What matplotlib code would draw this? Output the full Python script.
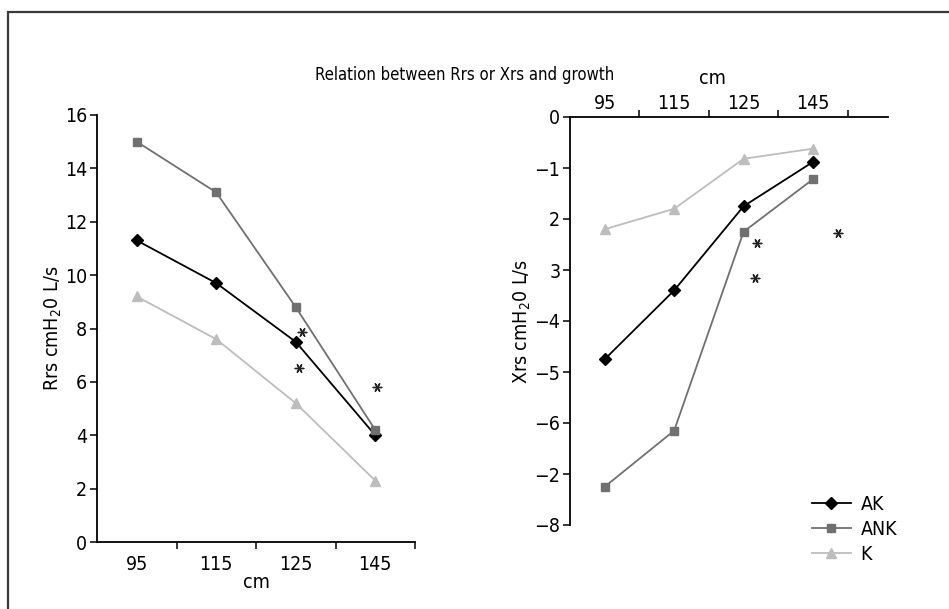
import matplotlib
matplotlib.use("Agg")
import matplotlib.pyplot as plt
from matplotlib.patches import Rectangle

plt.rcParams['font.family'] = ['DejaVu Sans']
plt.rcParams['font.stretch'] = 'condensed'
plt.rcParams['mathtext.fontset'] = 'custom'
plt.rcParams['mathtext.rm'] = 'DejaVu Sans:stretch=condensed'
plt.rcParams['mathtext.it'] = 'DejaVu Sans:stretch=condensed'

heights = ["95", "115", "125", "145"]
series = ["AK", "ANK", "K"]

rrs_ak = [11.3, 9.7, 7.5, 4.0]
rrs_ank = [15.0, 13.1, 8.8, 4.2]
rrs_k = [9.2, 7.6, 5.2, 2.3]

xrs_ak = [-4.75, -3.4, -1.75, -0.88]
xrs_ank = [-7.25, -6.15, -2.25, -1.22]
xrs_k = [-2.2, -1.8, -0.82, -0.62]

rrs_ticks = [0, 2, 4, 6, 8, 10, 12, 14, 16]
xrs_ticks = [-8, -7, -6, -5, -4, -3, -2, -1, 0]
xrs_ticklabels = ["\u22128", "\u22122", "\u22126", "\u22125", "\u22124", "3", "2", "\u22121", "0"]

rrs_star_x = [2.08, 2.04, 3.02]
rrs_star_y = [7.87, 6.52, 5.81]
xrs_star_x = [2.19, 2.16, 3.36]
xrs_star_y = [-2.47, -3.16, -2.27]

styles = {
    "AK": dict(color="#000000", marker="D", markersize=6.5),
    "ANK": dict(color="#707070", marker="s", markersize=6),
    "K": dict(color="#bdbdbd", marker="^", markersize=7.5),
}

W, H = 949, 609
fig = plt.figure(figsize=(W / 100, H / 100), dpi=100)

# outer frame
fig.add_artist(Rectangle((8 / W, -0.1), 1.2, (H - 12) / H + 0.1, transform=fig.transFigure,
                         fill=False, edgecolor="#3a3a3a", linewidth=1.6))

fig.text(465 / W, 1 - 75 / H, "Relation between Rrs or Xrs and growth", ha="center", va="center", fontsize=12)

x = list(range(len(heights)))
star_kw = dict(marker=(6, 2, 90), s=38, color="#222222", linewidths=1.0)

# Left axes
ax1 = fig.add_axes([97 / W, 1 - 542 / H, (415 - 97) / W, (542 - 115) / H])
for name, vals in zip(series, [rrs_ak, rrs_ank, rrs_k]):
    ax1.plot(x, vals, linewidth=1.3, label=name, **styles[name])
ax1.set_xlim(-0.5, 3.5)
ax1.set_ylim(0, 16)
ax1.set_yticks(rrs_ticks)
ax1.set_xticks([0.5, 1.5, 2.5, 3.5])
ax1.set_xticklabels([])
ax1.set_xticks(x, minor=True)
ax1.set_xticklabels(heights, minor=True)
ax1.tick_params(axis="x", which="minor", length=0, pad=9, labelsize=14)
ax1.tick_params(axis="x", which="major", length=5, width=1.1, direction="out")
ax1.tick_params(axis="y", length=5, width=1.1, direction="out", labelsize=14, pad=2)
for s in ["top", "right"]:
    ax1.spines[s].set_visible(False)
for s in ["left", "bottom"]:
    ax1.spines[s].set_linewidth(1.3)
ax1.set_ylabel(r"Rrs cmH$_2$0 L/s", fontsize=14, labelpad=1)
ax1.set_xlabel("cm", fontsize=14, labelpad=0)
ax1.scatter(rrs_star_x, rrs_star_y, **star_kw)

# Right axes
ax2 = fig.add_axes([570 / W, 1 - 525 / H, (888 - 570) / W, (525 - 117) / H])
for name, vals in zip(series, [xrs_ak, xrs_ank, xrs_k]):
    ax2.plot(x, vals, linewidth=1.3, label=name, **styles[name])
ax2.set_xlim(-0.5, 4.08)
ax2.set_ylim(-8, 0)
ax2.set_yticks(xrs_ticks)
ax2.set_yticklabels(xrs_ticklabels)
ax2.xaxis.tick_top()
ax2.set_xticks([0.5, 1.5, 2.5, 3.5])
ax2.set_xticklabels([])
ax2.set_xticks(x, minor=True)
ax2.set_xticklabels(heights, minor=True)
ax2.tick_params(axis="x", which="minor", length=0, pad=3, labelsize=14, top=True, labeltop=True, bottom=False, labelbottom=False)
ax2.tick_params(axis="x", which="major", length=5, width=1.1, direction="out", top=True, bottom=False)
ax2.tick_params(axis="y", length=5, width=1.1, direction="out", labelsize=14, pad=2)
for s in ["bottom", "right"]:
    ax2.spines[s].set_visible(False)
for s in ["left", "top"]:
    ax2.spines[s].set_linewidth(1.3)
ax2.set_ylabel(r"Xrs cmH$_2$0 L/s", fontsize=14, labelpad=1)
fig.text(712 / W, 1 - 78 / H, "cm", ha="center", va="center", fontsize=14)
ax2.scatter(xrs_star_x, xrs_star_y, **star_kw)

ax2.legend(loc="upper left", bbox_to_anchor=(812 / W, 1 - 495 / H), bbox_transform=fig.transFigure,
           frameon=False, fontsize=14, handlelength=2.0, handletextpad=0.5, labelspacing=0.3,
           borderpad=0, borderaxespad=0)

fig.savefig("out.png", dpi=100)
